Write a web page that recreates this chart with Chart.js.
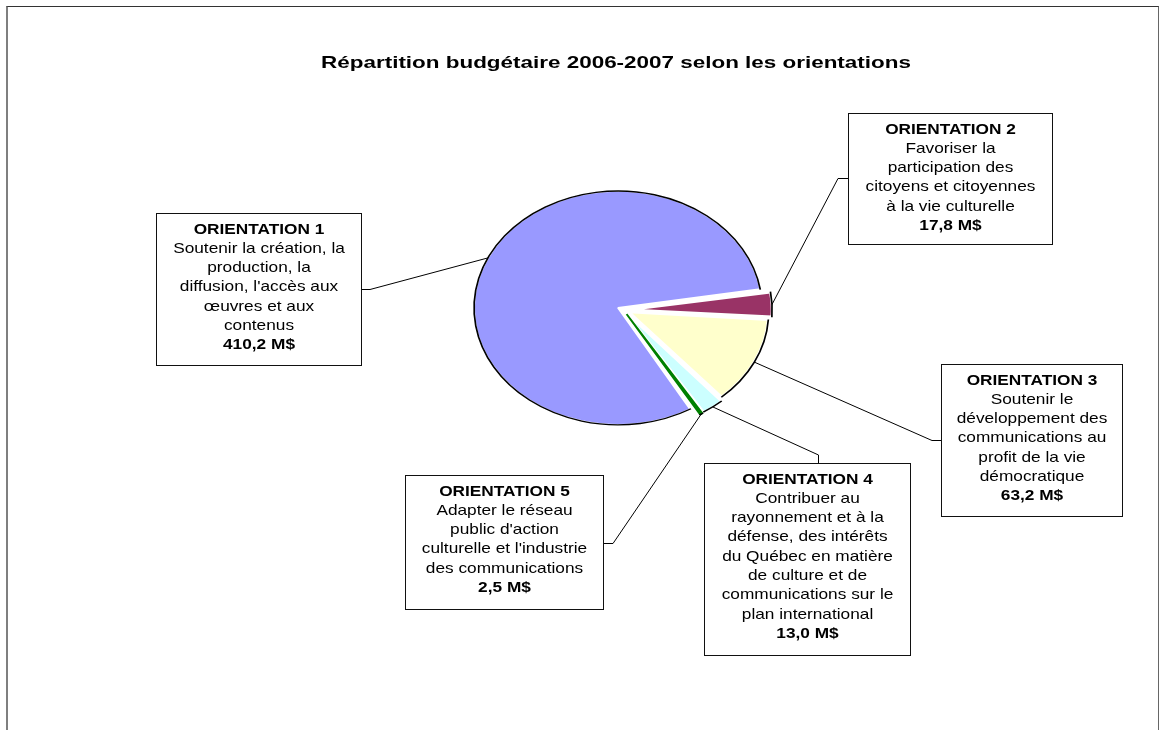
<!DOCTYPE html>
<html lang="fr">
<head>
<meta charset="utf-8">
<title>Répartition budgétaire 2006-2007 selon les orientations</title>
<script src="https://cdn.jsdelivr.net/npm/chart.js@4.4.0/dist/chart.umd.min.js"></script>
<style>
  html, body { margin: 0; padding: 0; background: #fff; overflow: hidden; }
  #frame {
    position: absolute; left: 6px; top: 6px; width: 1153px; height: 760px;
    box-sizing: border-box;
    border-top: 1px solid #333; border-left: 2px solid #7f7f7f; border-right: 1px solid #666;
  }
  #wrap { position: absolute; left: 0; top: 0; width: 1167px; height: 730px; }
</style>
</head>
<body>
<div id="frame"></div>
<div id="wrap"><canvas id="chart"></canvas></div>
<script>
// Chart data
const chartTitle = 'Répartition budgétaire 2006-2007 selon les orientations';
const categories = ['ORIENTATION 1', 'ORIENTATION 2', 'ORIENTATION 3', 'ORIENTATION 4', 'ORIENTATION 5'];
const descriptions = [
  ['Soutenir la création, la', 'production, la', "diffusion, l'accès aux", 'œuvres et aux', 'contenus'],
  ['Favoriser la', 'participation des', 'citoyens et citoyennes', 'à la vie culturelle'],
  ['Soutenir le', 'développement des', 'communications au', 'profit de la vie', 'démocratique'],
  ['Contribuer au', 'rayonnement et à la', 'défense, des intérêts', 'du Québec en matière', 'de culture et de', 'communications sur le', 'plan international'],
  ['Adapter le réseau', "public d'action", "culturelle et l'industrie", 'des communications']
];
const values = [410.2, 17.8, 63.2, 13.0, 2.5];  // M$
const sliceColors = ['#9999FF', '#993366', '#FFFFCC', '#CCFFFF', '#008000'];

// Layout of the callout boxes: [left, top, right, bottom], elbow and anchor of the leader line
const calloutLayout = [
  { box: [156, 213, 361, 365], elbow: [370, 289.5], anchor: [361, 289.5] },
  { box: [848, 113, 1052, 244], elbow: [838, 178.5], anchor: [848, 178.5] },
  { box: [941, 364, 1122, 516], elbow: [932, 440.5], anchor: [941, 440.5] },
  { box: [704, 463, 910, 655], elbow: [818.5, 455], anchor: [818.5, 463] },
  { box: [405, 475, 603, 609], elbow: [613, 543.5], anchor: [603, 543.5] }
];

const FLATTEN = 0.812;      // pie is drawn as a flattened ellipse
const TEXT_STRETCH = 1.19;  // labels are a bit wider than plain Arial
const LINE_H = 19.3;
const FONT = '"Liberation Sans", Arial, sans-serif';

function formatValue(v) {
  return v.toFixed(1).replace('.', ',') + ' M$';
}

// same geometry as ArcElement.draw (offset / 4 shift, radius fix)
function sliceGeometry(arc) {
  const off = (arc.options.offset || 0) / 4;
  const mid = (arc.startAngle + arc.endAngle) / 2;
  const fix = 1 - Math.sin(Math.min(Math.PI, arc.circumference || 0));
  return {
    cx: arc.x + Math.cos(mid) * off,
    cy: arc.y + Math.sin(mid) * off,
    r: arc.outerRadius + off * fix,
    mid: mid
  };
}

function stretchedText(ctx, text, x, y, font, sx) {
  ctx.save();
  ctx.translate(x, y);
  ctx.scale(sx, 1);
  ctx.font = font;
  ctx.fillText(text, 0, 0);
  ctx.restore();
}

const ellipsePlugin = {
  id: 'ellipse',
  beforeDatasetsDraw(chart) {
    const arc = chart.getDatasetMeta(0).data[0];
    const ctx = chart.ctx;
    ctx.save();
    ctx.translate(arc.x, arc.y);
    ctx.scale(1, FLATTEN);
    ctx.translate(-arc.x, -arc.y);
  },
  afterDatasetsDraw(chart) {
    const ctx = chart.ctx;
    ctx.strokeStyle = '#000';
    ctx.lineWidth = 1.7;
    chart.getDatasetMeta(0).data.forEach(function(arc) {
      const g = sliceGeometry(arc);
      ctx.beginPath();
      ctx.arc(g.cx, g.cy, g.r, arc.startAngle, arc.endAngle);
      ctx.stroke();
    });
    ctx.restore();
  }
};

const calloutPlugin = {
  id: 'callouts',
  afterDraw(chart) {
    const ctx = chart.ctx;
    const meta = chart.getDatasetMeta(0);
    ctx.save();

    meta.data.forEach(function(arc, i) {
      const g = sliceGeometry(arc);
      const px = g.cx + Math.cos(g.mid) * g.r;
      const py = arc.y + (g.cy + Math.sin(g.mid) * g.r - arc.y) * FLATTEN;
      const c = calloutLayout[i];

      // leader line
      ctx.strokeStyle = '#000';
      ctx.lineWidth = 1;
      ctx.beginPath();
      ctx.moveTo(px, py);
      ctx.lineTo(c.elbow[0], c.elbow[1]);
      ctx.lineTo(c.anchor[0], c.anchor[1]);
      ctx.stroke();

      // box
      const [l, t, r, b] = c.box;
      ctx.fillStyle = '#fff';
      ctx.fillRect(l, t, r - l, b - t);
      ctx.strokeStyle = '#111';
      ctx.strokeRect(l + 0.5, t + 0.5, r - l, b - t);

      // text
      const lines = [{ text: categories[i], bold: true }]
        .concat(descriptions[i].map(function(s) { return { text: s, bold: false }; }))
        .concat([{ text: formatValue(values[i]), bold: true }]);
      ctx.fillStyle = '#000';
      ctx.textAlign = 'center';
      ctx.textBaseline = 'middle';
      const cx = (l + r) / 2 + 0.5;
      lines.forEach(function(line, k) {
        const font = (line.bold ? 'bold ' : '') + '14.5px ' + FONT;
        stretchedText(ctx, line.text, cx, t + 16.5 + k * LINE_H, font, TEXT_STRETCH);
      });
    });

    // title
    ctx.fillStyle = '#000';
    ctx.textAlign = 'center';
    ctx.textBaseline = 'alphabetic';
    stretchedText(ctx, chartTitle, 616, 68, 'bold 16.5px ' + FONT, 1.36);

    ctx.restore();
  }
};

const ctx = document.getElementById('chart');

new Chart(ctx, {
  type: 'pie',
  data: {
    labels: categories,
    datasets: [{
      data: values,
      backgroundColor: sliceColors,
      borderColor: ['#ffffff', '#ffffff', '#ffffff', '#ffffff', '#008000'],
      borderWidth: [2, 3, 3, 2, 2],
      offset: 24
    }]
  },
  options: {
    responsive: true,
    maintainAspectRatio: false,
    animation: false,
    events: [],
    rotation: 149.6,
    radius: 138,
    layout: {
      padding: { left: 80, right: 0, top: 0, bottom: 110 }
    },
    plugins: {
      legend: { display: false },
      title: { display: false },
      tooltip: { enabled: false }
    }
  },
  plugins: [ellipsePlugin, calloutPlugin]
});
</script>
</body>
</html>
